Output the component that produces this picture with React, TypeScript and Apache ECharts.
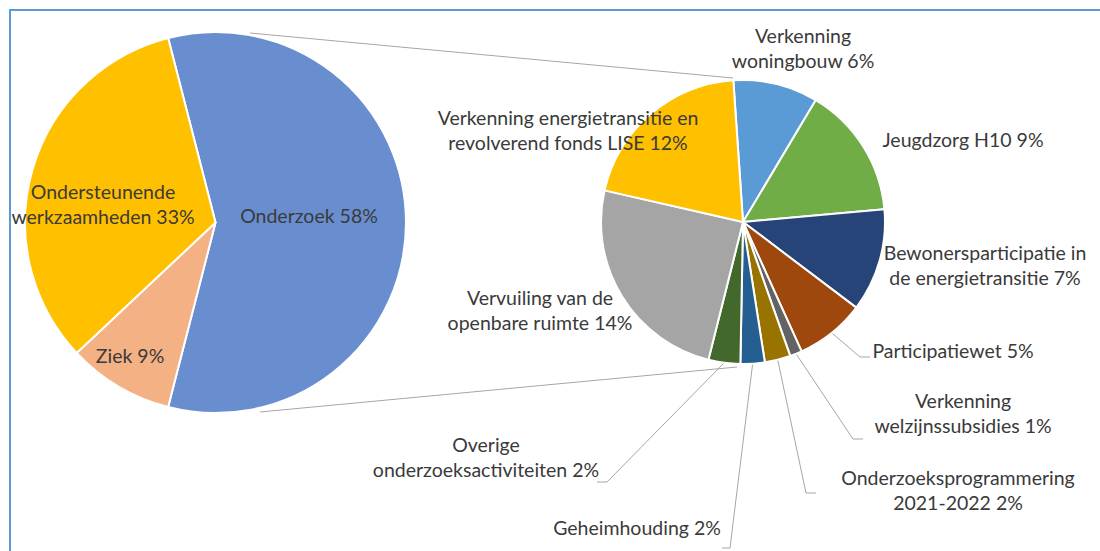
import { useEffect, useRef } from "react";
import * as echarts from "echarts";

// ---- data ----
const mainCategories = ["Onderzoek", "Ziek", "Ondersteunende\nwerkzaamheden"];
const mainValues = [58, 9, 33];
const mainColors = ["#698ED0", "#F4B183", "#FFC000"];

const subCategories = [
  "Verkenning\nwoningbouw",
  "Jeugdzorg H10",
  "Bewonersparticipatie in\nde energietransitie",
  "Participatiewet",
  "Verkenning\nwelzijnssubsidies",
  "Onderzoeksprogrammering\n2021-2022",
  "Geheimhouding",
  "Overige\nonderzoeksactiviteiten",
  "Vervuiling van de\nopenbare ruimte",
  "Verkenning energietransitie en\nrevolverend fonds LISE",
];
const subValues = [5.6, 8.7, 6.8, 4.6, 0.8, 1.7, 1.6, 2.1, 14.3, 11.8];
const subColors = [
  "#5B9BD5",
  "#70AD47",
  "#264478",
  "#9E480E",
  "#636363",
  "#997300",
  "#255E91",
  "#43682B",
  "#A5A5A5",
  "#FFC000",
];

// ---- layout (positions of labels, not data) ----
const mainLabelPos = [
  [309, 215],
  [130, 355],
  [103, 204],
];
const subLabelPos = [
  [803, 48],
  [963, 139],
  [985, 265],
  [953, 350],
  [963, 413],
  [958, 490],
  [637, 527],
  [486, 457],
  [540, 310],
  [568, 130],
];
const subLeaders: (number[][] | null)[] = [
  null,
  null,
  null,
  [[860, 357], [870, 357]],
  [[853, 439], [863, 439]],
  [[806, 493], [816, 493]],
  [[730, 548], [722, 548]],
  [[607, 482], [597, 482]],
  null,
  null,
];

const FONT = "Lato";
const FONT_SIZE = 19.5;
const TEXT_COLOR = "#3a3a3a";

export default function App() {
  const ref = useRef<HTMLDivElement>(null);

  useEffect(() => {
    if (!ref.current) return;
    const chart = echarts.init(ref.current, null, { renderer: "svg" });

    const mainTotal = mainValues.reduce((a, b) => a + b, 0);
    const mainStart = (mainValues[0] / mainTotal) * 180;

    const option: any = {
      animation: false,
      backgroundColor: "#ffffff",
      textStyle: { fontFamily: FONT },
      graphic: [
        {
          type: "rect",
          shape: { x: 10, y: 10, width: 1200, height: 600 },
          style: { fill: "none", stroke: "#5B9BD5", lineWidth: 2 },
          silent: true,
        },
        {
          type: "line",
          shape: { x1: 250, y1: 33, x2: 733, y2: 78 },
          style: { stroke: "#A6A6A6", lineWidth: 1 },
          silent: true,
        },
        {
          type: "line",
          shape: { x1: 260, y1: 412, x2: 737, y2: 367 },
          style: { stroke: "#A6A6A6", lineWidth: 1 },
          silent: true,
        },
      ],
      series: [
        {
          type: "pie",
          center: [215.5, 222.5],
          radius: 190.5,
          startAngle: mainStart,
          clockwise: true,
          avoidLabelOverlap: false,
          emphasis: { disabled: true },
          itemStyle: { borderColor: "#ffffff", borderWidth: 2 },
          label: {
            show: true,
            position: "inside",
            fontFamily: FONT,
            fontSize: FONT_SIZE,
            color: TEXT_COLOR,
            lineHeight: 25,
            formatter: (p: any) => `${p.name} ${Math.round(p.value)}%`,
          },
          labelLine: { show: false },
          labelLayout: (p: any) => {
            const [x, y] = mainLabelPos[p.dataIndex];
            return { x, y, align: "center", verticalAlign: "middle" };
          },
          data: mainCategories.map((name, i) => ({
            name,
            value: mainValues[i],
            itemStyle: { color: mainColors[i] },
          })),
        },
        {
          type: "pie",
          center: [743, 222],
          radius: 142,
          startAngle: 93.9,
          clockwise: true,
          avoidLabelOverlap: false,
          emphasis: { disabled: true },
          itemStyle: { borderColor: "#ffffff", borderWidth: 2 },
          label: {
            show: true,
            position: "outside",
            fontFamily: FONT,
            fontSize: FONT_SIZE,
            color: TEXT_COLOR,
            lineHeight: 25,
            align: "center",
            formatter: (p: any) => `${p.name} ${Math.round(p.value)}%`,
          },
          labelLine: {
            show: true,
            length: 10,
            length2: 10,
            lineStyle: { color: "#A6A6A6", width: 1 },
          },
          labelLayout: (p: any) => {
            const i = p.dataIndex;
            const [x, y] = subLabelPos[i];
            const res: any = { x, y, align: "center", verticalAlign: "middle" };
            const lead = subLeaders[i];
            if (lead && p.labelLinePoints) {
              res.labelLinePoints = [p.labelLinePoints[0], ...lead];
            }
            return res;
          },
          data: subCategories.map((name, i) => ({
            name,
            value: subValues[i],
            itemStyle: { color: subColors[i] },
            labelLine: { show: subLeaders[i] !== null },
          })),
        },
      ],
    };

    chart.setOption(option);
    return () => chart.dispose();
  }, []);

  return (
    <div
      ref={ref}
      style={{ position: "fixed", left: 0, top: 0, width: 1100, height: 551 }}
    />
  );
}
